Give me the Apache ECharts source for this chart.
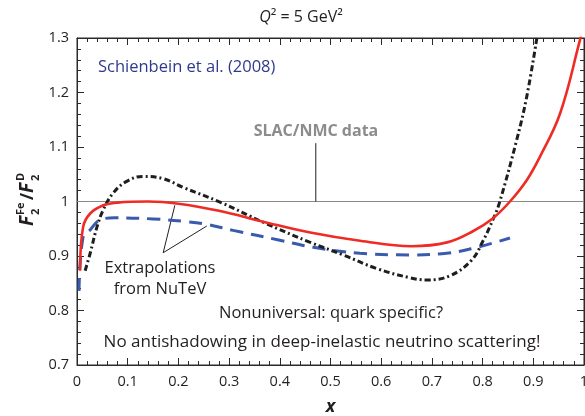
<!DOCTYPE html>
<html>
<head>
<meta charset="utf-8">
<script src="https://cdn.jsdelivr.net/npm/echarts@6/dist/echarts.min.js"></script>
<style>html,body{margin:0;padding:0;background:#fff}#c{width:585px;height:416px}</style>
</head>
<body>
<div id="c"></div>
<script>
// ---- data ----
const xTicks = [0, 0.1, 0.2, 0.3, 0.4, 0.5, 0.6, 0.7, 0.8, 0.9, 1];
const yTicks = [0.7, 0.8, 0.9, 1.0, 1.1, 1.2, 1.3];

const redX = [0.006, 0.012, 0.026, 0.052, 0.08, 0.14, 0.2, 0.28, 0.367, 0.46, 0.558, 0.66, 0.73, 0.78, 0.82, 0.854, 0.887, 0.913, 0.953, 0.992, 1.0];
const redY = [0.873, 0.953, 0.978, 0.993, 0.998, 1.0, 0.996, 0.983, 0.963, 0.943, 0.928, 0.918, 0.925, 0.945, 0.969, 1.0, 1.039, 1.082, 1.162, 1.296, 1.325];

const blueX = [0.004, 0.012, 0.026, 0.045, 0.075, 0.15, 0.216, 0.256, 0.308, 0.4, 0.466, 0.558, 0.657, 0.729, 0.781, 0.821, 0.854];
const blueY = [0.836, 0.935, 0.948, 0.966, 0.97, 0.968, 0.963, 0.958, 0.947, 0.929, 0.916, 0.905, 0.902, 0.905, 0.914, 0.924, 0.933];

const blackX = [0.016, 0.026, 0.039, 0.051, 0.071, 0.098, 0.13, 0.17, 0.209, 0.282, 0.367, 0.46, 0.525, 0.591, 0.657, 0.69, 0.736, 0.778, 0.801, 0.821, 0.834, 0.867, 0.887, 0.907];
const blackY = [0.873, 0.905, 0.952, 0.983, 1.015, 1.037, 1.046, 1.042, 1.026, 0.999, 0.962, 0.925, 0.902, 0.877, 0.86, 0.856, 0.864, 0.892, 0.928, 0.968, 1.0, 1.112, 1.192, 1.3];

const slacX = [0, 1];
const slacY = [1, 1];
const slacPointerX = [0.471, 0.471];
const slacPointerY = [1.0, 1.107];
const extrapRedX = [0.193, 0.17];
const extrapRedY = [0.993, 0.906];
const extrapBlueX = [0.17, 0.256];
const extrapBlueY = [0.906, 0.955];

const zip = (a, b) => a.map((v, i) => [v, b[i]]);
const FONT = 'Open Sans';
const TXT = '#231f20';
const AX = '#2a2a2a';

const chart = echarts.init(document.getElementById('c'));

function mkAxis(extra) {
  return Object.assign({
    type: 'value',
    splitLine: {show: true, lineStyle: {color: 'rgba(0,0,0,0)'}},
    axisLine: {show: true, onZero: false, lineStyle: {color: AX, width: 1}},
    axisTick: {show: true, inside: true, length: 7, lineStyle: {color: AX, width: 1}},
    minorTick: {show: true, splitNumber: 5, length: 4, lineStyle: {color: AX, width: 1}}
  }, extra);
}

const option = {
  animation: false,
  title: {
    text: '{i|Q}² = 5 GeV²',
    left: 296, top: 4, textAlign: 'center',
    textStyle: {
      fontFamily: FONT, fontSize: 16, fontWeight: 'normal', color: TXT,
      rich: {i: {fontFamily: FONT, fontSize: 16, fontStyle: 'italic', color: TXT}}
    }
  },
  grid: {left: 77, right: 1, top: 38, bottom: 51, outerBoundsMode: 'none',
    show: true, borderColor: AX, borderWidth: 1},
  xAxis: [
    mkAxis({
      min: xTicks[0], max: xTicks[xTicks.length - 1], interval: 0.1, position: 'bottom',
      axisLabel: {show: true, margin: 9, fontFamily: FONT, fontSize: 14.5, color: TXT},
      name: 'x', nameLocation: 'middle', nameGap: 33,
      nameTextStyle: {fontFamily: FONT, fontSize: 18, fontStyle: 'italic', fontWeight: 'bold', color: TXT}
    }),
    mkAxis({
      min: xTicks[0], max: xTicks[xTicks.length - 1], interval: 0.1, position: 'top',
      axisLabel: {show: false}
    })
  ],
  yAxis: [
    mkAxis({
      min: yTicks[0], max: yTicks[yTicks.length - 1], interval: 0.1, position: 'left',
      axisLabel: {show: true, margin: 8, fontFamily: FONT, fontSize: 14.5, color: TXT}
    }),
    mkAxis({
      min: yTicks[0], max: yTicks[yTicks.length - 1], interval: 0.1, position: 'right',
      axisLabel: {show: false}
    })
  ],
  series: [
    {type: 'line', data: zip(slacX, slacY), symbol: 'none', silent: true, xAxisIndex: 1, yAxisIndex: 1,
      lineStyle: {color: '#8a8a8a', width: 1}},
    {type: 'line', data: zip(slacPointerX, slacPointerY), symbol: 'none', silent: true,
      lineStyle: {color: TXT, width: 1}},
    {type: 'line', data: zip(extrapRedX, extrapRedY), symbol: 'none', silent: true,
      lineStyle: {color: TXT, width: 1}},
    {type: 'line', data: zip(extrapBlueX, extrapBlueY), symbol: 'none', silent: true,
      lineStyle: {color: TXT, width: 1}},
    {type: 'line', name: 'blue', data: zip(blueX, blueY), symbol: 'none', smooth: 0.4,
      lineStyle: {color: '#3a5aad', width: 3, type: [13, 8]}},
    {type: 'line', name: 'black', data: zip(blackX, blackY), symbol: 'none', smooth: 0.4,
      lineStyle: {color: '#1e1e1e', width: 3, type: [6, 3, 2, 3]}},
    {type: 'line', name: 'red', data: zip(redX, redY), symbol: 'none', smooth: 0.4,
      lineStyle: {color: '#ee2b24', width: 2.6}},
  ],
  graphic: [
    {type: 'text', left: 98, top: 59, style: {text: 'Schienbein et al. (2008)', font: '16.5px "Open Sans"', fill: '#2e3a8c'}},
    {type: 'text', x: 316, y: 131, style: {text: 'SLAC/NMC data', font: 'bold 16px "Open Sans"', fill: '#8c8c8c', align: 'center', verticalAlign: 'middle'}},
    {type: 'text', x: 160, y: 268, style: {text: 'Extrapolations', font: '16.5px "Open Sans"', fill: TXT, align: 'center', verticalAlign: 'middle'}},
    {type: 'text', x: 160, y: 289, style: {text: 'from NuTeV', font: '16.5px "Open Sans"', fill: TXT, align: 'center', verticalAlign: 'middle'}},
    {type: 'text', x: 331, y: 313, style: {text: 'Nonuniversal: quark specific?', font: '16.5px "Open Sans"', fill: TXT, align: 'center', verticalAlign: 'middle'}},
    {type: 'text', x: 322, y: 342, style: {text: 'No antishadowing in deep-inelastic neutrino scattering!', font: '17px "Open Sans"', fill: TXT, align: 'center', verticalAlign: 'middle'}},
    {type: 'group', x: 33, y: 226, rotation: Math.PI / 2, children: [
      {type: 'text', x: 0, y: 4, style: {text: 'F', font: 'italic bold 19px "Open Sans"', fill: TXT, verticalAlign: 'bottom'}},
      {type: 'text', x: 11, y: -7, style: {text: 'Fe', font: 'bold 11px "Open Sans"', fill: TXT, verticalAlign: 'bottom'}},
      {type: 'text', x: 11, y: 8, style: {text: '2', font: 'bold 11px "Open Sans"', fill: TXT, verticalAlign: 'bottom'}},
      {type: 'text', x: 26, y: 4, style: {text: '/', font: 'bold 17px "Open Sans"', fill: TXT, verticalAlign: 'bottom'}},
      {type: 'text', x: 33, y: 4, style: {text: 'F', font: 'italic bold 19px "Open Sans"', fill: TXT, verticalAlign: 'bottom'}},
      {type: 'text', x: 45, y: -7, style: {text: 'D', font: 'bold 11px "Open Sans"', fill: TXT, verticalAlign: 'bottom'}},
      {type: 'text', x: 45, y: 8, style: {text: '2', font: 'bold 11px "Open Sans"', fill: TXT, verticalAlign: 'bottom'}}
    ]}
  ]
};
chart.setOption(option);
</script>
</body>
</html>
